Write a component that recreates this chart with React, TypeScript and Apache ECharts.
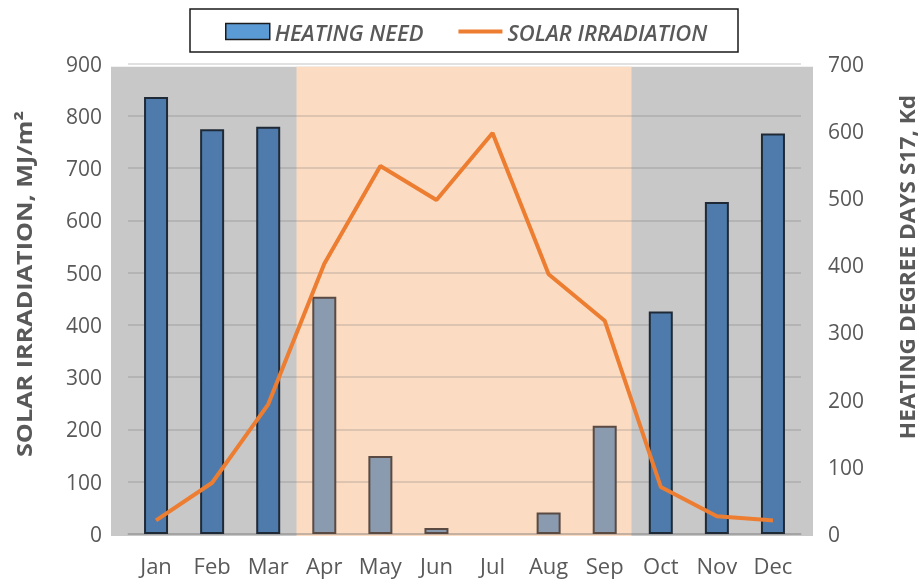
import React, { useEffect, useRef } from "react";
import * as echarts from "echarts";

const months = ["Jan", "Feb", "Mar", "Apr", "May", "Jun", "Jul", "Aug", "Sep", "Oct", "Nov", "Dec"];
const heatingNeed = [650, 602, 606, 353, 116, 9, 0, 32, 161, 331, 494, 596];
const solarIrradiation = [26, 98, 248, 517, 704, 639, 767, 497, 408, 90, 34, 26];
const heatingSeason = [true, true, true, false, false, false, false, false, false, true, true, true];

const leftAxis = { min: 0, max: 900, interval: 100 };
const rightAxis = { min: 0, max: 700, interval: 100 };

const TEXT = "#595959";
const FONT = "'Open Sans', 'Noto Sans', sans-serif";
const GRID_COLOR = "rgba(100,100,100,0.25)";

export default function App() {
  const ref = useRef<HTMLDivElement>(null);
  useEffect(() => {
    if (!ref.current) return;
    const chart = echarts.init(ref.current, null, { renderer: "svg" });

    const barData = heatingNeed.map((v, i) => ({
      value: v,
      itemStyle: heatingSeason[i]
        ? { color: "#4e7bab", borderColor: "#1f2a36", borderWidth: v === 0 ? 0 : 2 }
        : { color: "#8a9bb0", borderColor: "#5a4a42", borderWidth: v === 0 ? 0 : 2 },
    }));

    chart.setOption({
      animation: false,
      textStyle: { fontFamily: FONT },
      grid: { left: 128, right: 122, top: 63.5, bottom: 45, containLabel: false },
      legend: {
        left: 225,
        top: 20.5,
        padding: 0,
        itemWidth: 44,
        itemHeight: 16,
        itemGap: 35,
        textStyle: { fontFamily: FONT, fontSize: 22, fontStyle: "italic", fontWeight: 600, color: TEXT },
        data: [
          {
            name: "HEATING NEED",
            icon: "rect",
            itemStyle: { color: "#5b9bd5", borderColor: "#1c1c1c", borderWidth: 1.5 },
          },
          {
            name: "SOLAR IRRADIATION",
            icon: "path://M0 0H44V4H0Z",
            itemStyle: { color: "#ed7d31", borderWidth: 0 },
          },
        ],
      },
      graphic: [
        {
          type: "rect",
          z: -10,
          silent: true,
          shape: { x: 111, y: 66.7, width: 702, height: 469.3 },
          style: { fill: "#c8c8c8" },
        },
        {
          type: "rect",
          z: -9,
          silent: true,
          shape: { x: 296.5, y: 66.7, width: 335, height: 469.3 },
          style: { fill: "#fbdcc3" },
        },
        {
          type: "rect",
          z: 10,
          silent: true,
          shape: { x: 190, y: 9, width: 548, height: 43 },
          style: { fill: "none", stroke: "#1a1a1a", lineWidth: 1.5 },
        },
        {
          type: "text",
          z: 10,
          x: 24,
          y: 284,
          rotation: Math.PI / 2,
          scaleX: 1.2,
          style: {
            text: "SOLAR IRRADIATION, MJ/m²",
            fill: TEXT,
            font: `bold 21px ${FONT}`,
            textAlign: "center",
            textVerticalAlign: "middle",
          },
        },
        {
          type: "text",
          z: 10,
          x: 907,
          y: 267,
          rotation: Math.PI / 2,
          scaleX: 1.08,
          style: {
            text: "HEATING DEGREE DAYS S17, Kd",
            fill: TEXT,
            font: `bold 21px ${FONT}`,
            textAlign: "center",
            textVerticalAlign: "middle",
          },
        },
      ],
      xAxis: {
        type: "category",
        data: months,
        boundaryGap: true,
        axisTick: { show: false },
        axisLine: { show: true, lineStyle: { color: GRID_COLOR, width: 1.5 } },
        axisLabel: { color: TEXT, fontSize: 22, margin: 20, fontFamily: FONT },
      },
      yAxis: [
        {
          type: "value",
          position: "left",
          ...leftAxis,
          axisLine: { show: false },
          axisTick: { show: false },
          axisLabel: { color: TEXT, fontSize: 21, margin: 26, fontFamily: FONT },
          splitLine: { show: true, lineStyle: { color: GRID_COLOR, width: 1.5 } },
        },
        {
          type: "value",
          position: "right",
          ...rightAxis,
          axisLine: { show: false },
          axisTick: { show: false },
          axisLabel: { color: TEXT, fontSize: 21, margin: 27, fontFamily: FONT },
          splitLine: { show: false },
        },
      ],
      series: [
        {
          name: "HEATING NEED",
          type: "bar",
          yAxisIndex: 1,
          barWidth: 24,
          data: barData,
          z: 2,
        },
        {
          name: "SOLAR IRRADIATION",
          type: "line",
          yAxisIndex: 0,
          data: solarIrradiation,
          symbol: "none",
          lineStyle: { color: "#ed7d31", width: 4 },
          itemStyle: { color: "#ed7d31" },
          z: 5,
        },
      ],
    });
    return () => chart.dispose();
  }, []);
  return <div ref={ref} style={{ position: "fixed", left: 0, top: 0, width: 923, height: 579 }} />;
}
